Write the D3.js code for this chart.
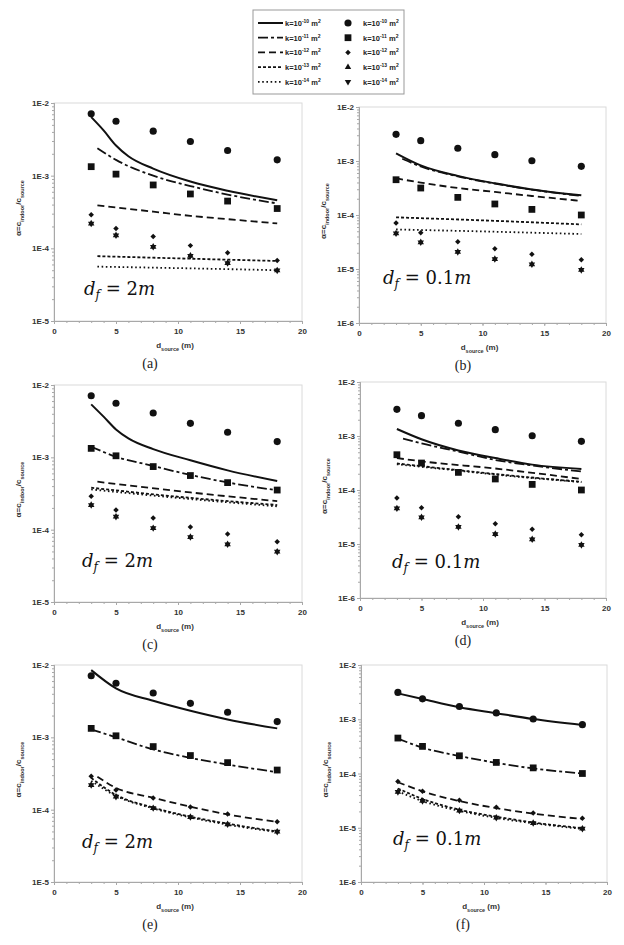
<!DOCTYPE html>
<html><head><meta charset="utf-8">
<script src="https://cdn.jsdelivr.net/npm/d3@7"></script>
<style>body{margin:0;background:#fff} svg{display:block}</style>
</head><body>
<svg id="chart" width="624" height="945"></svg>
<script>
// ---------- DATA ----------
const dist = [3, 5, 8, 11, 14, 18];
const xTicks = [0, 5, 10, 15, 20];
const yTicks2m = [1e-5, 1e-4, 1e-3, 1e-2];
const yTicks01m = [1e-6, 1e-5, 1e-4, 1e-3, 1e-2];
const permLabels = ["-10", "-11", "-12", "-13", "-14"];

// measured points (markers) — d_f = 2 m
const m2_k10 = [7.1e-3, 5.6e-3, 4.1e-3, 2.95e-3, 2.22e-3, 1.65e-3];
const m2_k11 = [1.33e-3, 1.05e-3, 7.45e-4, 5.6e-4, 4.47e-4, 3.53e-4];
const m2_k12 = [2.89e-4, 1.87e-4, 1.45e-4, 1.09e-4, 8.7e-5, 6.8e-5];
const m2_k13 = [2.19e-4, 1.51e-4, 1.05e-4, 7.9e-5, 6.27e-5, 4.96e-5];
const m2_k14 = [2.19e-4, 1.51e-4, 1.05e-4, 7.9e-5, 6.27e-5, 4.96e-5];
// measured points — d_f = 0.1 m
const m01_k10 = [3.12e-3, 2.38e-3, 1.72e-3, 1.31e-3, 1.01e-3, 7.96e-4];
const m01_k11 = [4.5e-4, 3.16e-4, 2.12e-4, 1.6e-4, 1.27e-4, 1.0e-4];
const m01_k12 = [7.1e-5, 4.7e-5, 3.2e-5, 2.38e-5, 1.87e-5, 1.49e-5];
const m01_k13 = [4.57e-5, 3.12e-5, 2.07e-5, 1.53e-5, 1.22e-5, 9.6e-6];
const m01_k14 = [4.57e-5, 3.12e-5, 2.07e-5, 1.53e-5, 1.22e-5, 9.6e-6];

// model curves, panel (a)
const a_k10_x = [3, 4, 5, 6, 8, 11, 14, 18];
const a_k10_y = [6.4e-3, 4.2e-3, 2.6e-3, 1.85e-3, 1.25e-3, 8.3e-4, 6.2e-4, 4.6e-4];
const a_k11_x = [3.5, 5, 8, 11, 14, 18];
const a_k11_y = [2.39e-3, 1.65e-3, 1.0e-3, 7.2e-4, 5.5e-4, 4.15e-4];
const a_k12_x = [3.5, 8, 11, 14, 18];
const a_k12_y = [3.9e-4, 3.2e-4, 2.8e-4, 2.52e-4, 2.2e-4];
const a_k13_x = [3.5, 11, 18];
const a_k13_y = [7.8e-5, 7.2e-5, 6.7e-5];
const a_k14_x = [3.5, 11, 18];
const a_k14_y = [5.6e-5, 5.3e-5, 5.0e-5];
// panel (b)
const b_k10_x = [3, 5, 8, 11, 14, 18];
const b_k10_y = [1.39e-3, 8.3e-4, 5.3e-4, 3.86e-4, 2.98e-4, 2.31e-4];
const b_k11_x = [3.5, 5, 8, 11, 14, 18];
const b_k11_y = [1.1e-3, 7.9e-4, 5.2e-4, 3.8e-4, 2.95e-4, 2.25e-4];
const b_k12_x = [3, 5, 8, 11, 14, 18];
const b_k12_y = [4.78e-4, 3.98e-4, 3.16e-4, 2.67e-4, 2.25e-4, 1.82e-4];
const b_k13_x = [3, 11, 18];
const b_k13_y = [9.05e-5, 7.8e-5, 6.7e-5];
const b_k14_x = [3, 11, 18];
const b_k14_y = [5.4e-5, 4.9e-5, 4.45e-5];
// panel (c)
const c_k10_x = [3, 4, 5, 6, 8, 11, 14, 18];
const c_k10_y = [5.4e-3, 3.65e-3, 2.43e-3, 1.83e-3, 1.3e-3, 9.1e-4, 6.6e-4, 4.7e-4];
const c_k11_x = [3, 5, 8, 11, 14, 18];
const c_k11_y = [1.4e-3, 1.02e-3, 7.6e-4, 5.7e-4, 4.5e-4, 3.5e-4];
const c_k12_x = [3.5, 11, 18];
const c_k12_y = [4.6e-4, 3.27e-4, 2.48e-4];
const c_k13_x = [3, 11, 18];
const c_k13_y = [3.8e-4, 2.75e-4, 2.19e-4];
const c_k14_x = [3, 11, 18];
const c_k14_y = [3.6e-4, 2.65e-4, 2.1e-4];
// panel (d)
const d_k10_x = [3, 5, 8, 11, 14, 18];
const d_k10_y = [1.35e-3, 8.7e-4, 5.4e-4, 3.9e-4, 2.95e-4, 2.45e-4];
const d_k11_x = [3.5, 5, 8, 11, 14, 18];
const d_k11_y = [8.9e-4, 7.3e-4, 5.15e-4, 3.6e-4, 2.85e-4, 2.2e-4];
const d_k12_x = [3, 5, 11, 18];
const d_k12_y = [3.9e-4, 3.4e-4, 2.5e-4, 1.6e-4];
const d_k13_x = [3, 8, 11, 18];
const d_k13_y = [3.1e-4, 2.33e-4, 1.97e-4, 1.42e-4];
const d_k14_x = [3, 8, 11, 18];
const d_k14_y = [3.0e-4, 2.28e-4, 1.93e-4, 1.4e-4];
// panel (e)
const e_k10_x = [3, 5, 8, 11, 14, 18];
const e_k10_y = [8.5e-3, 4.75e-3, 3.2e-3, 2.33e-3, 1.77e-3, 1.33e-3];
const e_k11_x = [3, 5, 8, 11, 14, 18];
const e_k11_y = [1.29e-3, 1.0e-3, 6.8e-4, 5.2e-4, 4.2e-4, 3.3e-4];
const e_k12_x = [3.5, 5, 8, 11, 14, 18];
const e_k12_y = [2.85e-4, 2.0e-4, 1.46e-4, 1.1e-4, 8.6e-5, 6.8e-5];
const e_k13_x = [3, 5, 8, 11, 14, 18];
const e_k13_y = [2.75e-4, 1.6e-4, 1.07e-4, 8.0e-5, 6.4e-5, 5.0e-5];
const e_k14_x = [3, 5, 8, 11, 14, 18];
const e_k14_y = [2.5e-4, 1.55e-4, 1.04e-4, 7.8e-5, 6.2e-5, 4.9e-5];
// panel (f)
const f_k10_x = [3, 5, 8, 11, 14, 18];
const f_k10_y = [3.0e-3, 2.36e-3, 1.66e-3, 1.29e-3, 1.01e-3, 7.85e-4];
const f_k11_x = [3, 5, 8, 11, 14, 18];
const f_k11_y = [4.4e-4, 3.0e-4, 2.1e-4, 1.57e-4, 1.24e-4, 1.0e-4];
const f_k12_x = [3, 5, 8, 11, 14, 18];
const f_k12_y = [6.9e-5, 4.7e-5, 3.1e-5, 2.3e-5, 1.82e-5, 1.45e-5];
const f_k13_x = [3, 5, 8, 11, 14, 18];
const f_k13_y = [5.3e-5, 3.4e-5, 2.15e-5, 1.6e-5, 1.25e-5, 9.8e-6];
const f_k14_x = [3, 5, 8, 11, 14, 18];
const f_k14_y = [4.7e-5, 3.1e-5, 2.05e-5, 1.52e-5, 1.21e-5, 9.5e-6];

// ---------- STYLE / LAYOUT ----------
const dashes = [null, "10,3,3,3", "7,4", "3,2", "1.6,2.6"];
const widths = [2, 1.8, 1.8, 1.8, 1.8];
const symTypes = [d3.symbolCircle, d3.symbolSquare, d3.symbolSquare, d3.symbolTriangle, d3.symbolTriangle];
const symSizes = [40, 46, 15, 18, 18];
const symRot = [0, 0, 45, 0, 180];
const sansB = "'Liberation Sans', Arial, sans-serif";

const zip = (xs, ys) => xs.map((x, i) => [x, ys[i]]);
const marks2m = [m2_k10, m2_k11, m2_k12, m2_k13, m2_k14];
const marks01m = [m01_k10, m01_k11, m01_k12, m01_k13, m01_k14];

const panels = [
  {cap: "(a)", x0: 54, x1: 302, yT: 103, yB: 321, ticks: yTicks2m, df: "2m",
   lines: [zip(a_k10_x, a_k10_y), zip(a_k11_x, a_k11_y), zip(a_k12_x, a_k12_y), zip(a_k13_x, a_k13_y), zip(a_k14_x, a_k14_y)],
   marks: marks2m, lab: [84, 295], capX: 150},
  {cap: "(b)", x0: 359, x1: 606, yT: 107, yB: 323, ticks: yTicks01m, df: "0.1m",
   lines: [zip(b_k10_x, b_k10_y), zip(b_k11_x, b_k11_y), zip(b_k12_x, b_k12_y), zip(b_k13_x, b_k13_y), zip(b_k14_x, b_k14_y)],
   marks: marks01m, lab: [383, 284], capX: 463},
  {cap: "(c)", x0: 54, x1: 302, yT: 385, yB: 602, ticks: yTicks2m, df: "2m",
   lines: [zip(c_k10_x, c_k10_y), zip(c_k11_x, c_k11_y), zip(c_k12_x, c_k12_y), zip(c_k13_x, c_k13_y), zip(c_k14_x, c_k14_y)],
   marks: marks2m, lab: [82, 567], capX: 150},
  {cap: "(d)", x0: 360, x1: 606, yT: 382, yB: 598, ticks: yTicks01m, df: "0.1m",
   lines: [zip(d_k10_x, d_k10_y), zip(d_k11_x, d_k11_y), zip(d_k12_x, d_k12_y), zip(d_k13_x, d_k13_y), zip(d_k14_x, d_k14_y)],
   marks: marks01m, lab: [392, 568], capX: 463},
  {cap: "(e)", x0: 54, x1: 302, yT: 665, yB: 882, ticks: yTicks2m, df: "2m",
   lines: [zip(e_k10_x, e_k10_y), zip(e_k11_x, e_k11_y), zip(e_k12_x, e_k12_y), zip(e_k13_x, e_k13_y), zip(e_k14_x, e_k14_y)],
   marks: marks2m, lab: [82, 848], capX: 150},
  {cap: "(f)", x0: 361, x1: 607, yT: 665, yB: 882, ticks: yTicks01m, df: "0.1m",
   lines: [zip(f_k10_x, f_k10_y), zip(f_k11_x, f_k11_y), zip(f_k12_x, f_k12_y), zip(f_k13_x, f_k13_y), zip(f_k14_x, f_k14_y)],
   marks: marks01m, lab: [393, 845], capX: 463},
];

const svg = d3.select("#chart");

function drawPanel(p) {
  const xs = d3.scaleLinear().domain([0, 20]).range([p.x0, p.x1]);
  const ys = d3.scaleLog().domain([p.ticks[0], 1e-2]).range([p.yB, p.yT]);
  const g = svg.append("g");

  // plot frame
  g.append("rect").attr("x", p.x0).attr("y", p.yT).attr("width", p.x1 - p.x0).attr("height", p.yB - p.yT)
    .attr("fill", "none").attr("stroke", "#dadada").attr("stroke-width", 1);

  // minor ticks
  const minorX = d3.range(0, 21);
  const gxm = g.append("g").attr("transform", `translate(0,${p.yB})`)
    .call(d3.axisBottom(xs).tickValues(minorX).tickSize(2).tickFormat(""));
  const minorY = [];
  p.ticks.slice(0, -1).forEach(t => { for (let k = 2; k <= 9; k++) minorY.push(t * k); });
  const gym = g.append("g").attr("transform", `translate(${p.x0},0)`)
    .call(d3.axisLeft(ys).tickValues(minorY).tickSize(2).tickFormat(""));
  // major
  const gx = g.append("g").attr("transform", `translate(0,${p.yB})`)
    .call(d3.axisBottom(xs).tickValues(xTicks).tickSize(3).tickPadding(4).tickFormat(d3.format("d")));
  const gy = g.append("g").attr("transform", `translate(${p.x0},0)`)
    .call(d3.axisLeft(ys).tickValues(p.ticks).tickSize(3).tickPadding(2)
      .tickFormat(v => "1E" + Math.round(Math.log10(v))));
  [gxm, gym, gx, gy].forEach(a => {
    a.selectAll("path").attr("stroke", "#a8a8a8");
    a.selectAll("line").attr("stroke", "#a8a8a8");
    a.selectAll("text").attr("font-family", sansB).attr("font-weight", "bold")
      .attr("font-size", 8).attr("fill", "#333");
  });

  // model lines
  const line = d3.line().x(d => xs(d[0])).y(d => ys(d[1])).curve(d3.curveMonotoneX);
  p.lines.forEach((pts, i) => {
    g.append("path").attr("d", line(pts)).attr("fill", "none").attr("stroke", "#111")
      .attr("stroke-width", widths[i]).attr("stroke-dasharray", dashes[i]);
  });

  // markers
  p.marks.forEach((vals, i) => {
    const sym = d3.symbol().type(symTypes[i]).size(symSizes[i]);
    g.selectAll(null).data(zip(dist, vals)).enter().append("path")
      .attr("d", sym)
      .attr("transform", d => `translate(${xs(d[0])},${ys(d[1])}) rotate(${symRot[i]})`)
      .attr("fill", "#111");
  });

  // d_f label
  const t = g.append("text").attr("x", p.lab[0]).attr("y", p.lab[1])
    .attr("font-family", "'DejaVu Serif', serif").attr("font-size", 18).attr("fill", "#111");
  t.append("tspan").attr("font-style", "italic").text("d");
  t.append("tspan").attr("font-style", "italic").attr("font-size", 12).attr("dy", 4).text("f");
  t.append("tspan").attr("dy", -4).text(" = ");
  const num = p.df.replace("m", "");
  t.append("tspan").text(num);
  t.append("tspan").attr("font-style", "italic").text("m");

  // x title
  const cx = (p.x0 + p.x1) / 2 - 3;
  const xt = g.append("text").attr("x", cx).attr("y", p.yB + 27).attr("text-anchor", "middle")
    .attr("font-family", sansB).attr("font-weight", "bold").attr("font-size", 8).attr("fill", "#333");
  xt.append("tspan").text("d");
  xt.append("tspan").attr("font-size", 5.5).attr("dy", 2.5).text("source");
  xt.append("tspan").attr("dy", -2.5).text(" (m)");

  // y title
  const ty = (p.yT + p.yB) / 2 - 4;
  const yt = g.append("text").attr("transform", `translate(${p.x0 - 33},${ty}) rotate(-90)`)
    .attr("text-anchor", "middle")
    .attr("font-family", sansB).attr("font-weight", "bold").attr("font-size", 8).attr("fill", "#333");
  yt.append("tspan").text("α=c");
  yt.append("tspan").attr("font-size", 5.5).attr("dy", 2.5).text("indoor");
  yt.append("tspan").attr("dy", -2.5).text("/c");
  yt.append("tspan").attr("font-size", 5.5).attr("dy", 2.5).text("source");

  // caption
  g.append("text").attr("x", p.capX).attr("y", p.yB + 47).attr("text-anchor", "middle")
    .attr("font-family", "'Liberation Serif', 'Times New Roman', serif").attr("font-size", 14)
    .attr("fill", "#222").text(p.cap);
}

panels.forEach(drawPanel);

// ---------- LEGEND ----------
const lg = svg.append("g");
lg.append("rect").attr("x", 253).attr("y", 10).attr("width", 151).attr("height", 84)
  .attr("fill", "#fff").attr("stroke", "#999").attr("stroke-width", 1);
const rowY = i => 23 + i * 14.7;
function kLabel(x, y, exp) {
  const t = lg.append("text").attr("x", x).attr("y", y + 3)
    .attr("font-family", sansB).attr("font-weight", "bold").attr("font-size", 7.5).attr("fill", "#222");
  t.append("tspan").text("k=10");
  t.append("tspan").attr("font-size", 5).attr("dy", -3).text(exp);
  t.append("tspan").attr("dy", 3).text(" m");
  t.append("tspan").attr("font-size", 5).attr("dy", -3).text("2");
}
permLabels.forEach((exp, i) => {
  const y = rowY(i);
  lg.append("line").attr("x1", 258).attr("x2", 283).attr("y1", y).attr("y2", y)
    .attr("stroke", "#111").attr("stroke-width", widths[i]).attr("stroke-dasharray", dashes[i]);
  kLabel(285, y, exp);
  lg.append("path").attr("d", d3.symbol().type(symTypes[i]).size(symSizes[i])())
    .attr("transform", `translate(348,${y}) rotate(${symRot[i]})`).attr("fill", "#111");
  kLabel(363, y, exp);
});
</script>
</body></html>
